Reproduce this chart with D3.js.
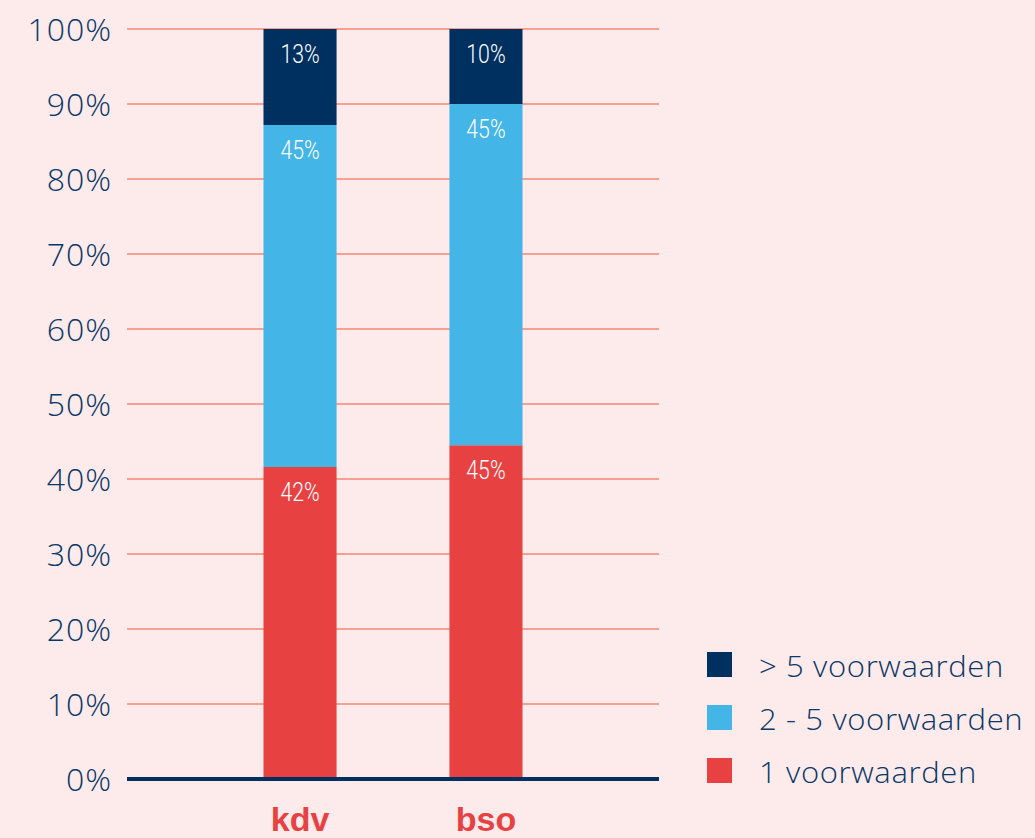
<!DOCTYPE html>
<html lang='nl'>
  <head>
    <meta charset='utf-8'>
    <title>Voorwaarden kdv / bso</title>
    <script src='https://cdn.jsdelivr.net/npm/d3@7'></script>
    <style>
    body{ margin:0; background:#fcebea; }
    .tick text{ font-family:'Open Sans', sans-serif; font-weight:300; }
    </style>
  </head>
  <body>
    <script>

    var w = 1035;
    var h = 838;

    // data
    var categories = ['kdv', 'bso'];
    var series = ['1 voorwaarden', '2 - 5 voorwaarden', '> 5 voorwaarden'];
    var een = [41.6, 44.5];
    var tweeTotVijf = [45.6, 45.5];
    var meerDanVijf = [12.8, 10.0];
    var labelsEen = ['42%', '45%'];
    var labelsTwee = ['45%', '45%'];
    var labelsMeer = ['13%', '10%'];
    var yTicks = [0, 10, 20, 30, 40, 50, 60, 70, 80, 90, 100];

    var colors = ['#e84142', '#43b5e6', '#00305f'];
    var navy = '#0b3868';

    var rows = categories.map(function(c, i){
      return {cat: c, een: een[i], twee: tweeTotVijf[i], meer: meerDanVijf[i]};
    });
    var labels = [labelsEen, labelsTwee, labelsMeer];
    var stack = d3.stack().keys(['een', 'twee', 'meer'])(rows);

    var plotLeft = 127, plotRight = 659, plotTop = 29, plotBottom = 779;

    var svg = d3.select('body').append('svg')
                .attr('width', w)
                .attr('height', h);

    var x = d3.scaleBand()
              .domain(categories)
              .range([plotLeft, plotRight])
              .paddingInner(0.607)
              .paddingOuter(0.734);

    var y = d3.scaleLinear()
              .domain([0, 100])
              .range([plotBottom, plotTop]);

    // grid lines
    svg.append('g')
       .selectAll('line')
       .data(yTicks.slice(1))
       .enter()
       .append('line')
       .attr('x1', plotLeft)
       .attr('x2', plotRight)
       .attr('y1', function(d){ return y(d); })
       .attr('y2', function(d){ return y(d); })
       .attr('stroke', '#f5a090')
       .attr('stroke-width', 2);

    // y axis labels
    var yAxis = d3.axisLeft(y)
                  .tickValues(yTicks)
                  .tickSize(0)
                  .tickPadding(0)
                  .tickFormat(function(d){ return d + '%'; });

    var ya = svg.append('g')
       .attr('transform', 'translate(112,0)')
       .call(yAxis);
    ya.select('.domain').remove();
    ya.selectAll('text')
      .attr('fill', navy)
      .attr('font-size', 32)
      .attr('letter-spacing', 1)
      .attr('dy', '0.36em');

    // bars
    var groups = svg.selectAll('g.layer')
       .data(stack)
       .enter()
       .append('g')
       .attr('class', 'layer')
       .attr('fill', function(d, i){ return colors[i]; });

    groups.selectAll('rect')
       .data(function(d){ return d; })
       .enter()
       .append('rect')
       .attr('x', function(d){ return x(d.data.cat); })
       .attr('width', x.bandwidth())
       .attr('y', function(d){ return y(d[1]); })
       .attr('height', function(d){ return y(d[0]) - y(d[1]); });

    groups.each(function(layer, li){
      d3.select(this).selectAll('text')
        .data(layer)
        .enter()
        .append('text')
        .attr('transform', function(d){
          return 'translate(' + (x(d.data.cat) + x.bandwidth() / 2) + ',' + (y(d[1]) + 34) + ') scale(0.85,1)';
        })
        .attr('text-anchor', 'middle')
        .attr('font-family', 'Roboto, sans-serif')
        .attr('font-weight', 300)
        .attr('font-size', 25)
        .attr('fill', '#ffffff')
        .text(function(d, i){ return labels[li][i]; });
    });

    // baseline
    svg.append('line')
       .attr('x1', plotLeft)
       .attr('x2', plotRight)
       .attr('y1', y(0))
       .attr('y2', y(0))
       .attr('stroke', '#00305f')
       .attr('stroke-width', 4);

    // category labels
    svg.selectAll('text.cat')
       .data(categories)
       .enter()
       .append('text')
       .attr('class', 'cat')
       .attr('x', function(d){ return x(d) + x.bandwidth() / 2; })
       .attr('y', 831)
       .attr('text-anchor', 'middle')
       .attr('font-family', 'Liberation Sans, Arial, sans-serif')
       .attr('font-weight', 'bold')
       .attr('font-size', 34)
       .attr('fill', '#e84142')
       .text(function(d){ return d; });

    // legend
    var legendOrder = [2, 1, 0];
    var legend = svg.selectAll('g.legend')
       .data(legendOrder)
       .enter()
       .append('g')
       .attr('class', 'legend')
       .attr('transform', function(d, i){ return 'translate(707,' + (652 + i * 53) + ')'; });

    legend.append('rect')
       .attr('width', 25)
       .attr('height', 25)
       .attr('fill', function(d){ return colors[d]; });

    legend.append('text')
       .attr('transform', 'translate(52,25) scale(1.07,1)')
       .attr('font-family', "'Open Sans', sans-serif")
       .attr('font-weight', 300)
       .attr('font-size', 29)
       .attr('letter-spacing', 0.6)
       .attr('fill', navy)
       .text(function(d){ return series[d]; });

    </script>
  </body>
</html>
